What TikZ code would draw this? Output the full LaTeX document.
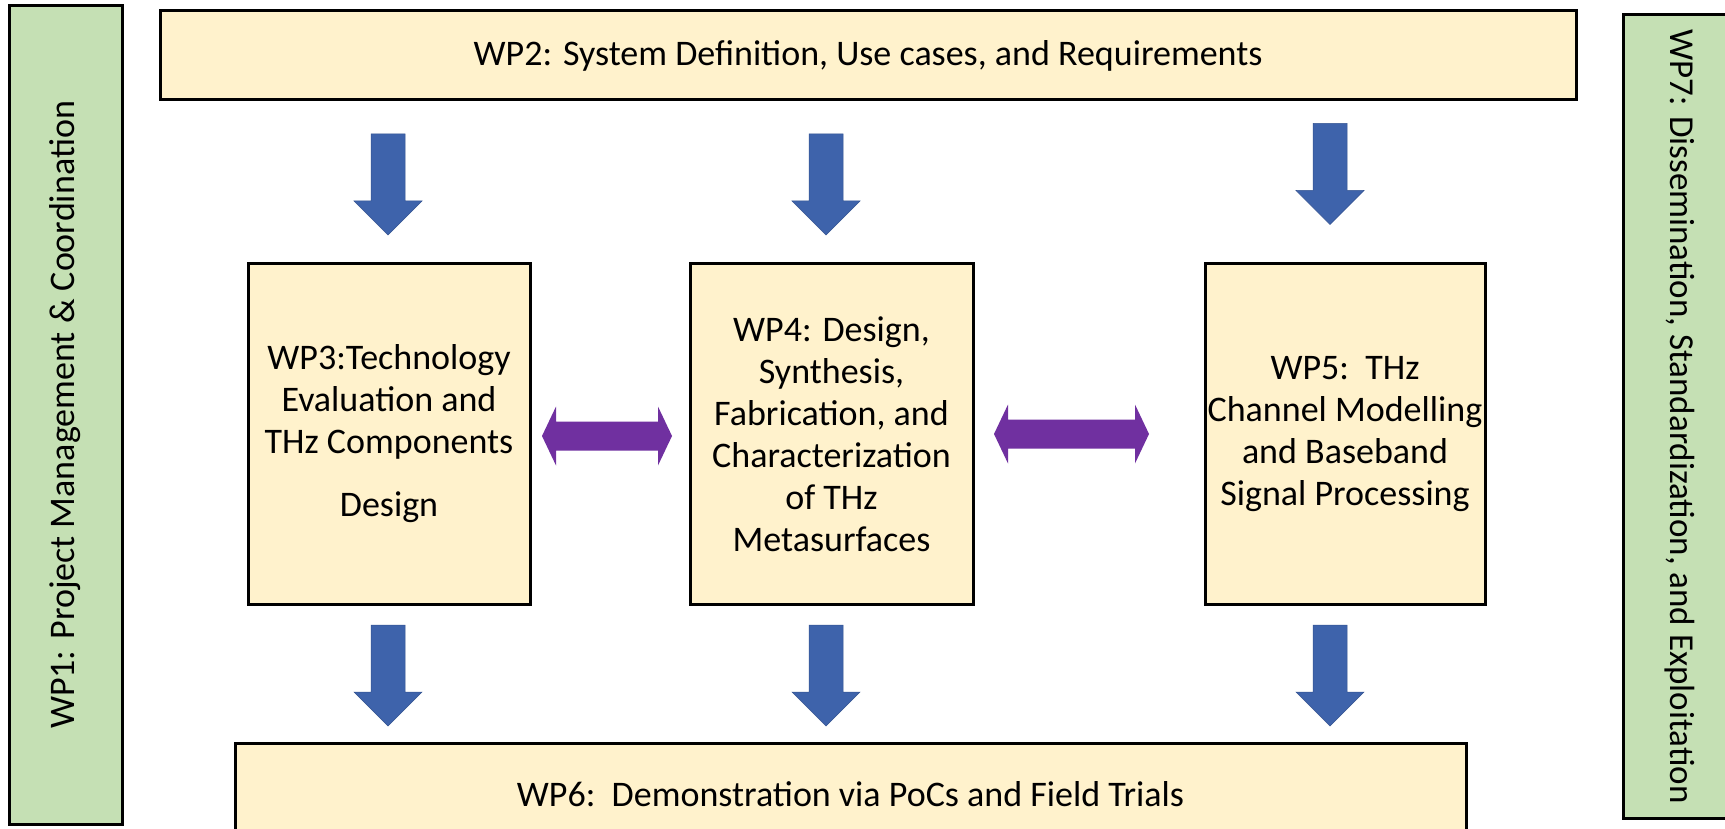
\documentclass[tikz,border=0pt]{standalone}
\usepackage{fontspec}
\setmainfont{Carlito}
\definecolor{boxyellow}{HTML}{FFF2CC}
\definecolor{boxgreen}{HTML}{C5E0B4}
\definecolor{arrowblue}{HTML}{3E63AB}
\definecolor{arrowpurple}{HTML}{7030A0}
\begin{document}
\begin{tikzpicture}[x=1pt,y=-1pt,
  wpbox/.style={draw=black, line width=3pt, fill=boxyellow, inner sep=0pt, align=center,
    font=\fontsize{36}{42}\selectfont},
  sidebox/.style={draw=black, line width=3pt, fill=boxgreen, inner sep=0pt, align=center,
    font=\fontsize{36}{40}\selectfont},
  bluefill/.style={fill=arrowblue, draw=arrowblue!85!black, line width=0.5pt},
  purplefill/.style={fill=arrowpurple},
  downarr/.pic={
    \path[bluefill] (-17,-50.5) -- (17,-50.5) -- (17,16.5) -- (34,16.5) -- (0,50.5)
      -- (-34,16.5) -- (-17,16.5) -- cycle;
  },
  biarr/.pic={
    \path[purplefill] ({-#1/2},0) -- ({-#1/2+14},-29.5) -- ({-#1/2+14},-14.5)
      -- ({#1/2-14},-14.5) -- ({#1/2-14},-29.5) -- ({#1/2},0) -- ({#1/2-14},29.5)
      -- ({#1/2-14},14.5) -- ({-#1/2+14},14.5) -- ({-#1/2+14},29.5) -- cycle;
  }
]
\useasboundingbox (0,0) rectangle (1725,829);
\fill[white] (0,0) rectangle (1725,829);

\node[sidebox, rotate=90, minimum width=818pt, minimum height=113pt] (wp1) at (65.5,415)
  {WP1: Project Management \& Coordination};
\node[sidebox, rotate=-90, minimum width=803pt, minimum height=113pt,
  font=\fontsize{35}{40}\selectfont] (wp7) at (1679.5,416.5)
  {WP7: Dissemination, Standardization, and Exploitation};

\node[wpbox, minimum width=1416pt, minimum height=89pt] (wp2) at (868,55.5)
  {WP2: System Definition, Use cases, and Requirements};
\node[wpbox, minimum width=282pt, minimum height=340pt] (wp3) at (389,434)
  {WP3:Technology\\Evaluation and\\THz Components\\[21pt]Design};
\node[wpbox, minimum width=283pt, minimum height=340pt] (wp4) at (831.5,434)
  {WP4: Design,\\Synthesis,\\Fabrication, and\\Characterization\\of THz\\Metasurfaces};
\node[wpbox, minimum width=280pt, minimum height=340pt] (wp5) at (1345,434)
  {WP5:\ \ THz\\Channel Modelling\\and Baseband\\Signal Processing};
\node[wpbox, minimum width=1231pt, minimum height=103pt] (wp6) at (850.5,794.5)
  {WP6:\ \ Demonstration via PoCs and Field Trials};

\pic (a23) at (388,184.5) {downarr};
\pic (a24) at (826,184.5) {downarr};
\pic (a25) at (1330,174) {downarr};
\pic (a36) at (388,675.5) {downarr};
\pic (a46) at (826,675.5) {downarr};
\pic (a56) at (1330,675.5) {downarr};

\pic (a34) at (607,436) {biarr=130};
\pic (a45) at (1071.5,434) {biarr=155};
\end{tikzpicture}
\end{document}
